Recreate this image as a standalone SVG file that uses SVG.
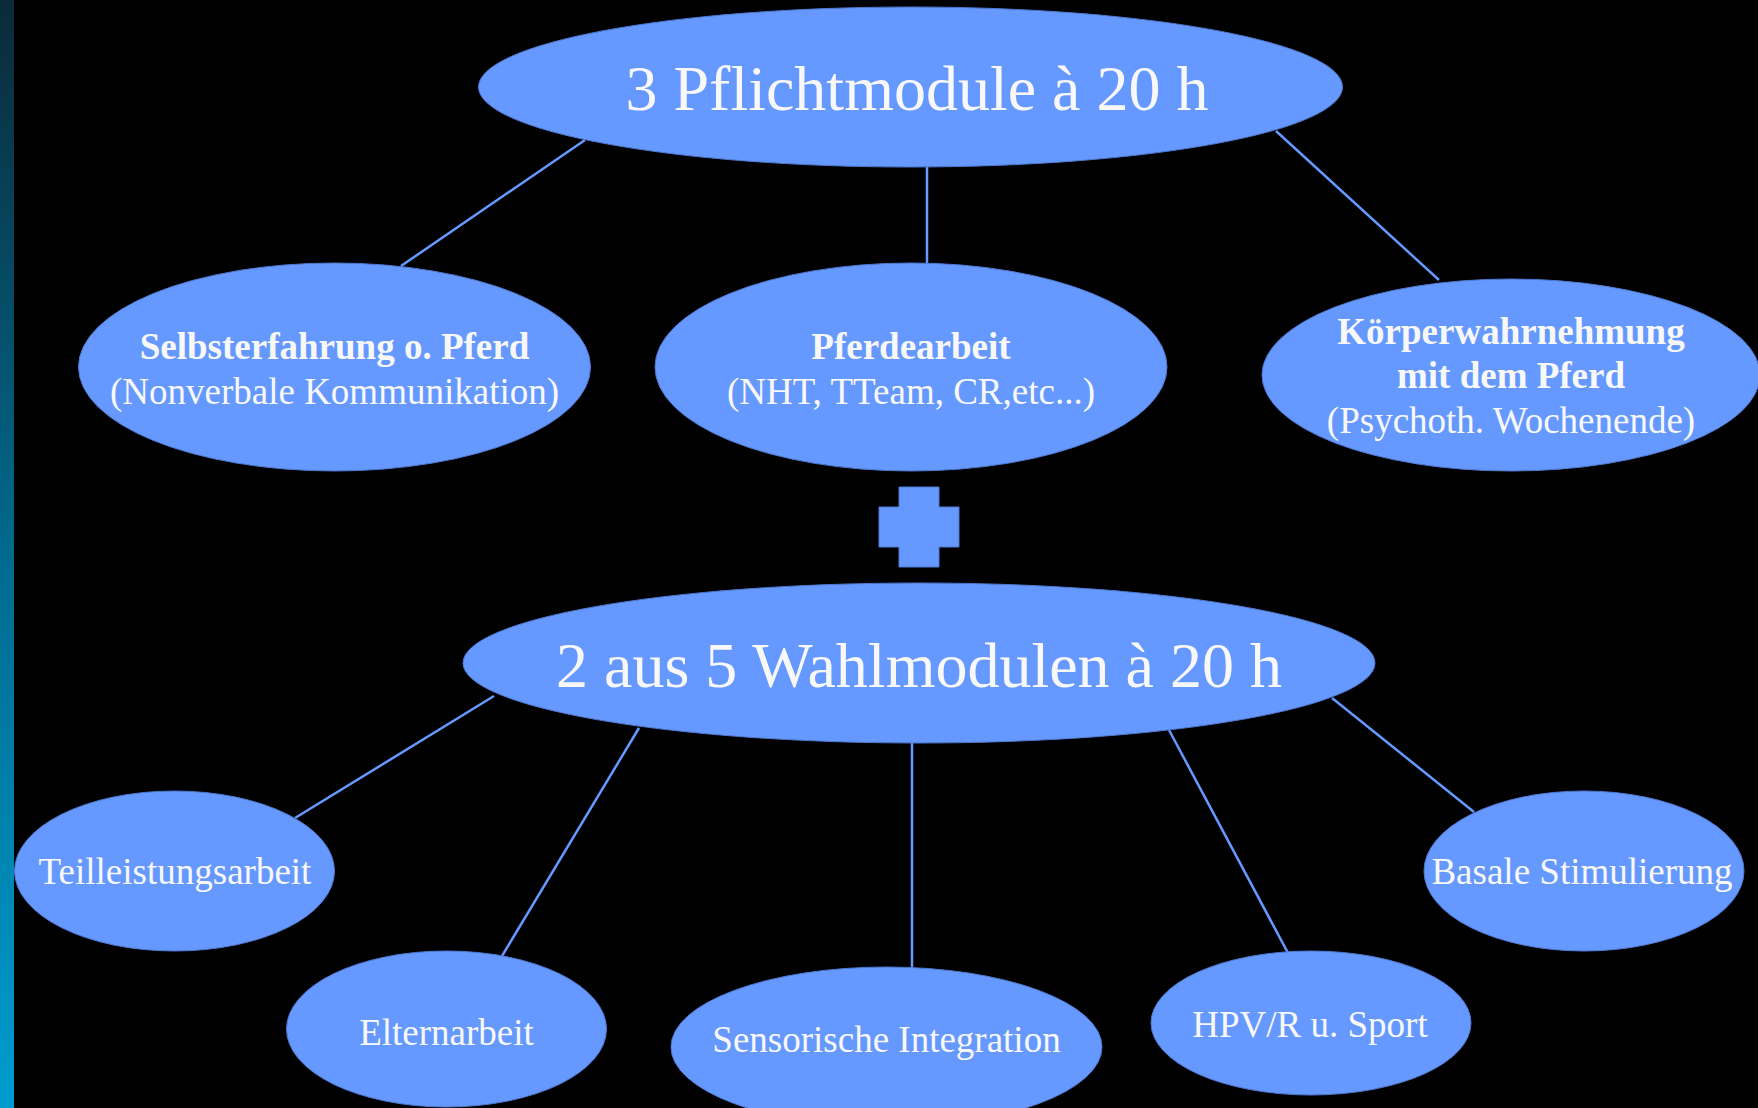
<svg xmlns="http://www.w3.org/2000/svg" width="1758" height="1108" viewBox="0 0 1758 1108">
<defs>
<linearGradient id="bar" x1="0" y1="0" x2="0" y2="1">
<stop offset="0" stop-color="#0b2a38"/>
<stop offset="0.5" stop-color="#006a8e"/>
<stop offset="1" stop-color="#009ccf"/>
</linearGradient>
<style>
.n{fill:#6699ff;stroke:#4f78d0;stroke-width:1}
.t{font-family:"Liberation Serif","Times New Roman",serif;fill:#f8f8f8;text-anchor:middle}
.big{font-size:64px}
.m{font-size:37px}
.b{font-weight:bold}
.c line{stroke:#6699ff;stroke-width:2.5}
</style>
</defs>
<rect width="1758" height="1108" fill="#000"/>
<rect x="0" y="0" width="14" height="1108" fill="url(#bar)"/>
<g class="c" id="connectors">
<line x1="585" y1="140" x2="401" y2="266"/>
<line x1="927" y1="166" x2="927" y2="264"/>
<line x1="1276" y1="131" x2="1439" y2="280"/>
<line x1="494" y1="696" x2="295" y2="818"/>
<line x1="639" y1="728" x2="502" y2="956"/>
<line x1="912" y1="742" x2="912" y2="968"/>
<line x1="1169" y1="730" x2="1288" y2="953"/>
<line x1="1332" y1="698" x2="1474" y2="812"/>
</g>
<g id="top">
<ellipse class="n" cx="910.5" cy="87" rx="432" ry="80"/>
<text class="t big" x="917" y="110">3 Pflichtmodule à 20 h</text>
</g>
<g id="selbst">
<ellipse class="n" cx="334.5" cy="367" rx="256" ry="104"/>
<text class="t m b" x="334.5" y="359">Selbsterfahrung o. Pferd</text>
<text class="t m" x="334.5" y="404">(Nonverbale Kommunikation)</text>
</g>
<g id="pferd">
<ellipse class="n" cx="911" cy="367" rx="256" ry="104"/>
<text class="t m b" x="911" y="359">Pferdearbeit</text>
<text class="t m" x="911" y="404">(NHT, TTeam, CR,etc...)</text>
</g>
<g id="koerper">
<ellipse class="n" cx="1511" cy="375" rx="249" ry="96"/>
<text class="t m b" x="1511" y="344">Körperwahrnehmung</text>
<text class="t m b" x="1511" y="388">mit dem Pferd</text>
<text class="t m" x="1511" y="433">(Psychoth. Wochenende)</text>
</g>
<g id="plus">
<path class="n" d="M899 487H939V507H959V547H939V567H899V547H879V507H899Z"/>
</g>
<g id="wahl">
<ellipse class="n" cx="919" cy="663" rx="456" ry="80"/>
<text class="t big" x="919" y="687">2 aus 5 Wahlmodulen à 20 h</text>
</g>
<g id="teil">
<ellipse class="n" cx="174.5" cy="871" rx="160" ry="80"/>
<text class="t m" x="175" y="884">Teilleistungsarbeit</text>
</g>
<g id="eltern">
<ellipse class="n" cx="446.5" cy="1029" rx="160" ry="78"/>
<text class="t m" x="446.5" y="1045">Elternarbeit</text>
</g>
<g id="sens">
<ellipse class="n" cx="886.5" cy="1047" rx="215.5" ry="80"/>
<text class="t m" x="886.5" y="1052">Sensorische Integration</text>
</g>
<g id="hpv">
<ellipse class="n" cx="1311" cy="1023" rx="160" ry="72"/>
<text class="t m" x="1310" y="1037">HPV/R u. Sport</text>
</g>
<g id="basale">
<ellipse class="n" cx="1584" cy="871" rx="160" ry="80"/>
<text class="t m" x="1582" y="884">Basale Stimulierung</text>
</g>
</svg>
